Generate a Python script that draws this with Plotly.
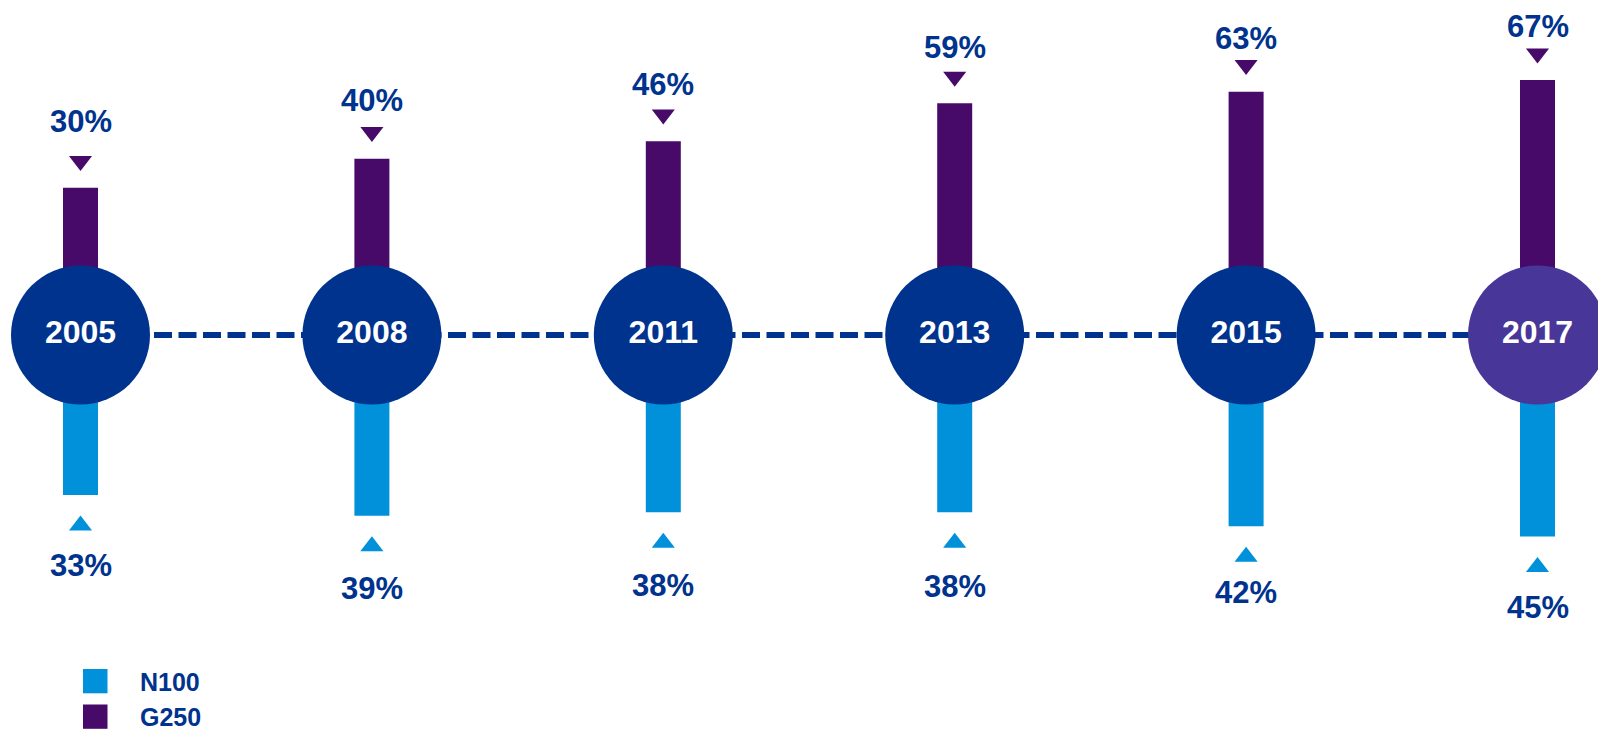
import plotly.graph_objects as go

years = ["2005", "2008", "2011", "2013", "2015", "2017"]
g250 = [30, 40, 46, 59, 63, 67]
n100 = [33, 39, 38, 38, 42, 45]
series_names = ["N100", "G250"]

NAVY = "#00338D"
PURPLE = "#470A68"
LIGHT = "#0091DA"
CIRCLE_LAST = "#483698"
FONT = "Liberation Sans"

W, H = 1598, 730
cx0, step = 80.5, 291.4        # px position of first circle, spacing
cy = 335                       # px of center line from top
g_scale, n_scale = 2.91, 3.47  # px per percentage point
g_base, n_base = 20.6, 13.1    # hidden part of bars behind circles (in % units)
tri_g_off, tri_n_off = 26.7 / g_scale, 30.5 / n_scale

# label distances (px) from bar end, as placed in the reference
g_label_gap = [66, 58, 57, 56, 53, 54]
n_label_gap = [71, 73, 73, 74, 66, 71]

x = list(range(len(years)))
xr = [-cx0 / step, (W - cx0) / step]
y1r = [-(H - cy) / g_scale, cy / g_scale]
y2r = [-(H - cy) / n_scale, cy / n_scale]
bw = 35 / step

fig = go.Figure()

# G250 bars (up) - bottom layer
fig.add_trace(go.Bar(x=x, y=g250, base=[g_base] * len(x), width=bw,
                     marker=dict(color=PURPLE, line=dict(width=0)),
                     name="G250", showlegend=False, yaxis="y", hoverinfo="skip"))
g_top = [g_base + v for v in g250]
n_bot = [-(n_base + v) for v in n100]
fig.add_trace(go.Scatter(x=x, y=[t + tri_g_off for t in g_top], mode="markers",
                         marker=dict(symbol="triangle-down", size=20, color=PURPLE,
                                     line=dict(width=0)),
                         hoverinfo="skip", showlegend=False, yaxis="y"))

# N100 bars (down) - upper layer
fig.add_trace(go.Bar(x=x, y=[-v for v in n100], base=[-n_base] * len(x), width=bw,
                     marker=dict(color=LIGHT, line=dict(width=0)),
                     name="N100", showlegend=False, yaxis="y2", hoverinfo="skip"))
fig.add_trace(go.Scatter(x=x, y=[b - tri_n_off for b in n_bot], mode="markers",
                         marker=dict(symbol="triangle-up", size=20, color=LIGHT,
                                     line=dict(width=0)),
                         hoverinfo="skip", showlegend=False, yaxis="y2"))

# dashed connector
fig.add_trace(go.Scatter(x=[x[0], x[-1]], y=[0, 0], mode="lines",
                         line=dict(color=NAVY, width=6, dash="18px,6.5px"),
                         hoverinfo="skip", showlegend=False, yaxis="y2"))

# circles with years (top layer)
fig.add_trace(go.Scatter(x=x, y=[0] * len(x), mode="markers+text",
                         marker=dict(size=139, color=[NAVY] * (len(x) - 1) + [CIRCLE_LAST],
                                     line=dict(width=0), opacity=1),
                         text=years, textposition="middle center",
                         textfont=dict(family=FONT, size=32, color="white", weight="bold"),
                         hoverinfo="skip", showlegend=False, yaxis="y2", cliponaxis=False))

annotations = []
for xi, t, v, gap in zip(x, g_top, g250, g_label_gap):
    annotations.append(dict(x=xi, y=t, xref="x", yref="y", text=f"{v}%", showarrow=False,
                            yshift=gap, borderpad=0,
                            font=dict(family=FONT, size=31, color=NAVY, weight="bold")))
for xi, b, v, gap in zip(x, n_bot, n100, n_label_gap):
    annotations.append(dict(x=xi, y=b, xref="x", yref="y2", text=f"{v}%", showarrow=False,
                            yshift=-gap, borderpad=0,
                            font=dict(family=FONT, size=31, color=NAVY, weight="bold")))

# legend
shapes = []
leg_colors = [LIGHT, PURPLE]
for i, (nm, col) in enumerate(zip(series_names, leg_colors)):
    top = 669 + i * 35.5
    shapes.append(dict(type="rect", xref="paper", yref="paper",
                       x0=83 / W, x1=107.5 / W, y0=1 - (top + 24.3) / H, y1=1 - top / H,
                       fillcolor=col, line=dict(width=0), layer="above"))
    annotations.append(dict(xref="paper", yref="paper", x=139 / W, y=1 - (top + 12.5) / H,
                            xanchor="left", yanchor="middle", text=nm, showarrow=False,
                            borderpad=0,
                            font=dict(family=FONT, size=25, color=NAVY, weight="bold")))

fig.update_layout(
    width=W, height=H, margin=dict(l=0, r=0, t=0, b=0, pad=0),
    paper_bgcolor="white", plot_bgcolor="white",
    barmode="overlay", showlegend=False,
    xaxis=dict(range=xr, visible=False, fixedrange=True),
    yaxis=dict(range=y1r, visible=False, fixedrange=True),
    yaxis2=dict(range=y2r, visible=False, overlaying="y", fixedrange=True),
    annotations=annotations, shapes=shapes,
)

fig.write_html("out.html", config={"displayModeBar": False},
               post_script="document.body.style.margin='0';document.body.style.overflow='hidden';")
